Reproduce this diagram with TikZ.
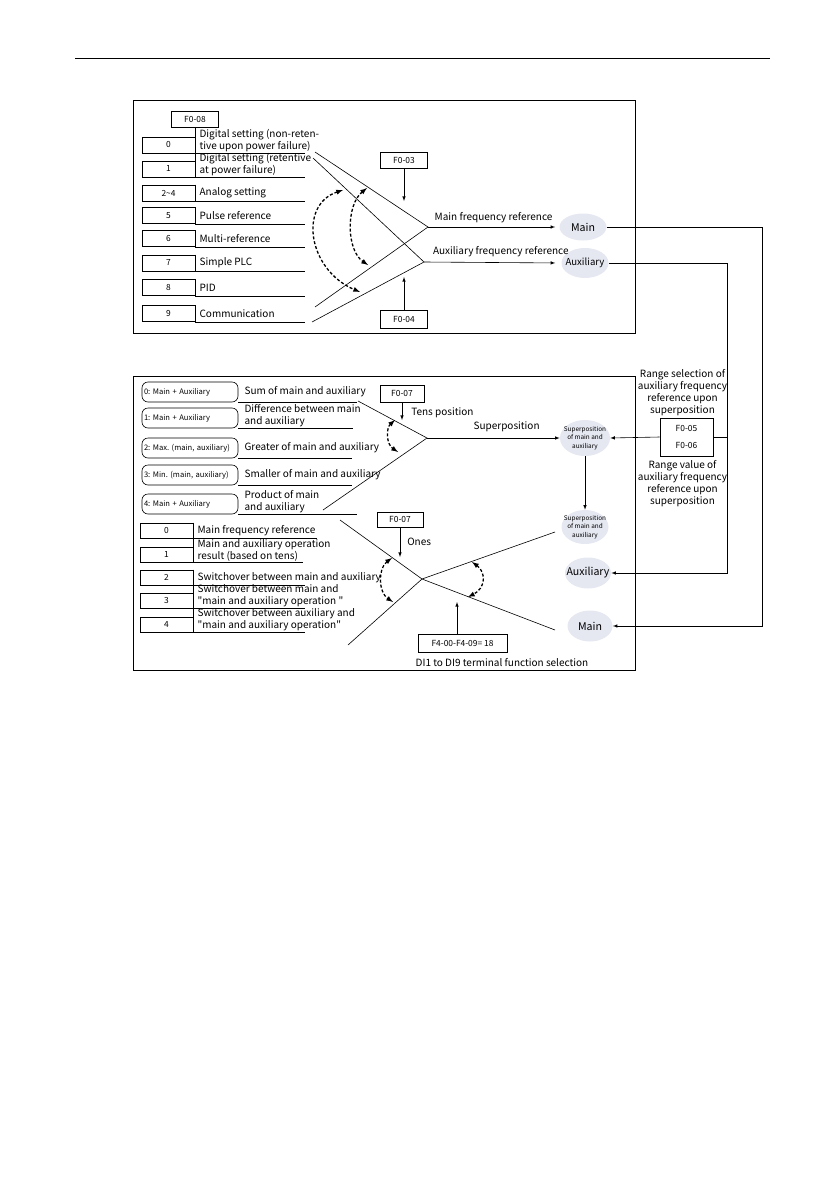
\documentclass[tikz,border=0pt]{standalone}
\usepackage{fontspec}
\setmainfont{Noto Sans CJK SC}[Ligatures=TeXOff]
\usepackage{tikz}
\usetikzlibrary{arrows}
\usetikzlibrary{calc}
\usetikzlibrary{positioning}
\usetikzlibrary{shapes.geometric}

\definecolor{ovalgray}{RGB}{229,231,241}
\frenchspacing

\tikzset{
  numbox/.style={draw, minimum width=53pt, minimum height=16pt, inner sep=0pt,
    font=\fontsize{8.4}{10}\selectfont},
  selbox/.style={draw, rounded corners=6pt, minimum width=96pt, minimum height=20pt,
    inner xsep=2pt, inner ysep=0pt, text width=92pt, align=left,
    font=\fontsize{7.6}{9}\selectfont},
  itemtext/.style={anchor=south west, inner xsep=4pt, inner ysep=1pt, align=left,
    font=\fontsize{10}{12}\selectfont},
  note/.style={inner sep=1pt, align=center, font=\fontsize{10}{12}\selectfont},
  oval/.style={ellipse, fill=ovalgray, minimum width=47pt, minimum height=28pt, inner sep=0pt},
  ovaltext/.style={align=center, inner sep=0pt, font=\fontsize{10.6}{12}\selectfont},
  suptext/.style={align=center, inner sep=0pt, font=\fontsize{6.4}{8.5}\selectfont},
  dasharrow/.style={latex-latex, dash pattern=on 3pt off 2pt, line width=1.3pt},
}

\begin{document}
\begin{tikzpicture}[x=1pt, y=-1pt, >=latex, line width=0.6pt]
  \useasboundingbox (0,0) rectangle (839,1191);

  \draw (75,58) -- (770,58);

  % upper block: main and auxiliary source
  \draw (133,100) rectangle (635,333);
  \node[numbox, minimum width=47pt] (f08) at (195,119) {F0-08};
  \foreach \n/\y/\num/\txt in {
      0/145/0/{Digital setting (non-reten-\\tive upon power failure)},
      1/169/1/{Digital setting (retentive\\at power failure)},
      2/193/2\textasciitilde4/{Analog setting},
      3/215.5/5/{Pulse reference},
      4/238.5/6/{Multi-reference},
      5/263/7/{Simple PLC},
      6/287.5/8/{PID},
      7/313.5/9/{Communication}} {
    \node[numbox] (s\n) at (168.5,\y) {\num};
    \node[itemtext, minimum height=16pt] (t\n) at (s\n.south east) {\txt};
    \draw (t\n.north west) -- (t\n.south west) -- ++(110,0);
  }
  \draw (f08) -- (t0.north west);

  \coordinate (mj) at (428,227);
  \coordinate (aj) at (424,262);
  \draw (315,152) -- (mj) -- (315,307);
  \draw (313,158) -- (aj) -- (312,322);

  \node[numbox, minimum width=47pt] (f03) at (404,160) {F0-03};
  \node[numbox, minimum width=47pt, minimum height=18pt] (f04) at (404,319) {F0-04};
  \coordinate (f03tip) at (404,201);
  \coordinate (f04tip) at (404,277);
  \draw[->] (f03) -- (f03tip);
  \draw[->] (f04) -- (f04tip);

  \draw[dasharrow] (343,190) .. controls (298,205) and (308,270) .. (360,292);
  \draw[dasharrow] (367,188) .. controls (346,205) and (346,250) .. (368,265);

  \node[oval, minimum height=27pt, label={[ovaltext]center:Main}] (mainA) at (583,227) {};
  \node[oval, minimum height=30pt,
    label={[ovaltext, font=\fontsize{9.6}{12}\selectfont]center:Auxiliary}] (auxA) at (585,263) {};
  \draw[->, shorten >=4pt] (mj) -- (mainA)
    node[note, midway, above=3pt] {Main frequency reference};
  \draw[->, shorten >=6pt] (aj) -- (auxA.west)
    node[note, pos=0.56, above=4pt] {Auxiliary frequency reference};

  % lower block: combination of main and auxiliary
  \draw (133,376) rectangle (635,670);
  \node[numbox, minimum width=44pt, minimum height=17pt] (f07a) at (402,393.5) {F0-07};
  \coordinate (f07atip) at (402,420);
  \draw[->] (f07a) -- (f07atip);
  \node[note, anchor=west] at (410,413) {Tens position};

  \foreach \n/\y/\sel/\txt/\len in {
      0/392/{0: Main + Auxiliary}/{Sum of main and auxiliary}/119,
      1/418/{1: Main + Auxiliary}/{Difference between main\\and auxiliary}/115,
      2/448/{2: Max. (main, auxiliary)}/{Greater of main and auxiliary}/114,
      3/475/{3: Min. (main, auxiliary)}/{Smaller of main and auxiliary}/114,
      4/504/{4: Main + Auxiliary}/{Product of main\\and auxiliary}/119} {
    \node[selbox] (r\n) at (190,\y) {\sel};
    \node[itemtext, minimum height=20pt, inner xsep=6pt] (u\n) at (r\n.south east) {\txt};
    \draw (u\n.south west) -- ++(\len,0);
  }

  \coordinate (tj) at (427,438);
  \draw (358,401) -- (tj) -- (323,510);
  \draw[dasharrow] (395,420) .. controls (386,428) and (386,444) .. (398,452);

  \node[oval, minimum width=50pt, minimum height=36pt,
    label={[suptext]center:Superposition\\of main and\\auxiliary}] (supA) at (585,438) {};
  \draw[->] (tj) -- (supA) node[note, pos=0.6, above=5pt] {Superposition};

  \node[numbox, minimum width=46pt, minimum height=15pt] (f07b) at (400,519.5) {F0-07};
  \coordinate (f07btip) at (400,557);
  \draw[->] (f07b) -- (f07btip);
  \node[note, anchor=west] at (406,542) {Ones};

  \foreach \n/\y/\num/\txt/\len in {
      0/530.5/0/{Main frequency reference}/124,
      1/554.5/1/{Main and auxiliary operation\\result (based on tens)}/110,
      2/577.5/2/{Switchover between main and auxiliary}/112,
      3/600.5/3/{Switchover between main and\\"main and auxiliary operation "}/112,
      4/624.5/4/{Switchover between auxiliary and\\"main and auxiliary operation"}/112} {
    \node[numbox, minimum height=15pt] (o\n) at (166.5,\y) {\num};
    \node[itemtext, minimum height=15pt] (v\n) at (o\n.south east) {\txt};
    \draw (v\n.north west) -- (v\n.south west) -- ++(\len,0);
  }

  \node[oval, minimum height=34pt,
    label={[suptext]center:Superposition\\of main and\\auxiliary}] (supB) at (585,527) {};
  \node[oval, minimum width=46pt, minimum height=31pt,
    label={[ovaltext]center:Auxiliary}] (auxC) at (588,573) {};
  \node[oval, minimum width=45pt, minimum height=31pt,
    label={[ovaltext]center:Main}] (mainC) at (590,626) {};
  \draw[->] (supA) -- (supB);

  \coordinate (oj) at (422,579);
  \coordinate (om) at (555,630);
  \coordinate (os) at (555,532);
  \draw (340,520) -- (oj) -- (om);
  \draw (348,645) -- (oj) -- (os);
  \draw[dasharrow] (392,558) .. controls (378,568) and (378,592) .. (393,602);
  \draw[dasharrow] (472,562) .. controls (486,572) and (486,588) .. (468,597);

  \node[numbox, minimum width=89pt, minimum height=18pt] (f4) at (462.5,643) {F4-00-F4-09= 18};
  \coordinate (ditip) at (457,602);
  \draw[->] (f4.north -| ditip) -- (ditip);
  \node[note] at (502,663) {DI1 to DI9 terminal function selection};

  % range of auxiliary upon superposition
  \node[numbox, minimum height=38pt, align=center] (f056) at (686.5,437) {F0-05\\[7pt]F0-06};
  \node[note, above=1pt of f056, xshift=-4pt] {Range selection of\\auxiliary frequency\\reference upon\\superposition};
  \node[note, below=3pt of f056, xshift=-4pt] {Range value of\\auxiliary frequency\\reference upon\\superposition};

  \coordinate (auxbus) at (727,437);
  \draw (f056.east) -- (auxbus);
  \draw[->] (f056.west) -- (supA.east);
  \draw[->] (mainA.east) -- ++(155.5,0) |- (mainC.east);
  \draw[->] (auxA.east) -- ++(118.5,0) |- (auxC.east);
\end{tikzpicture}
\end{document}
